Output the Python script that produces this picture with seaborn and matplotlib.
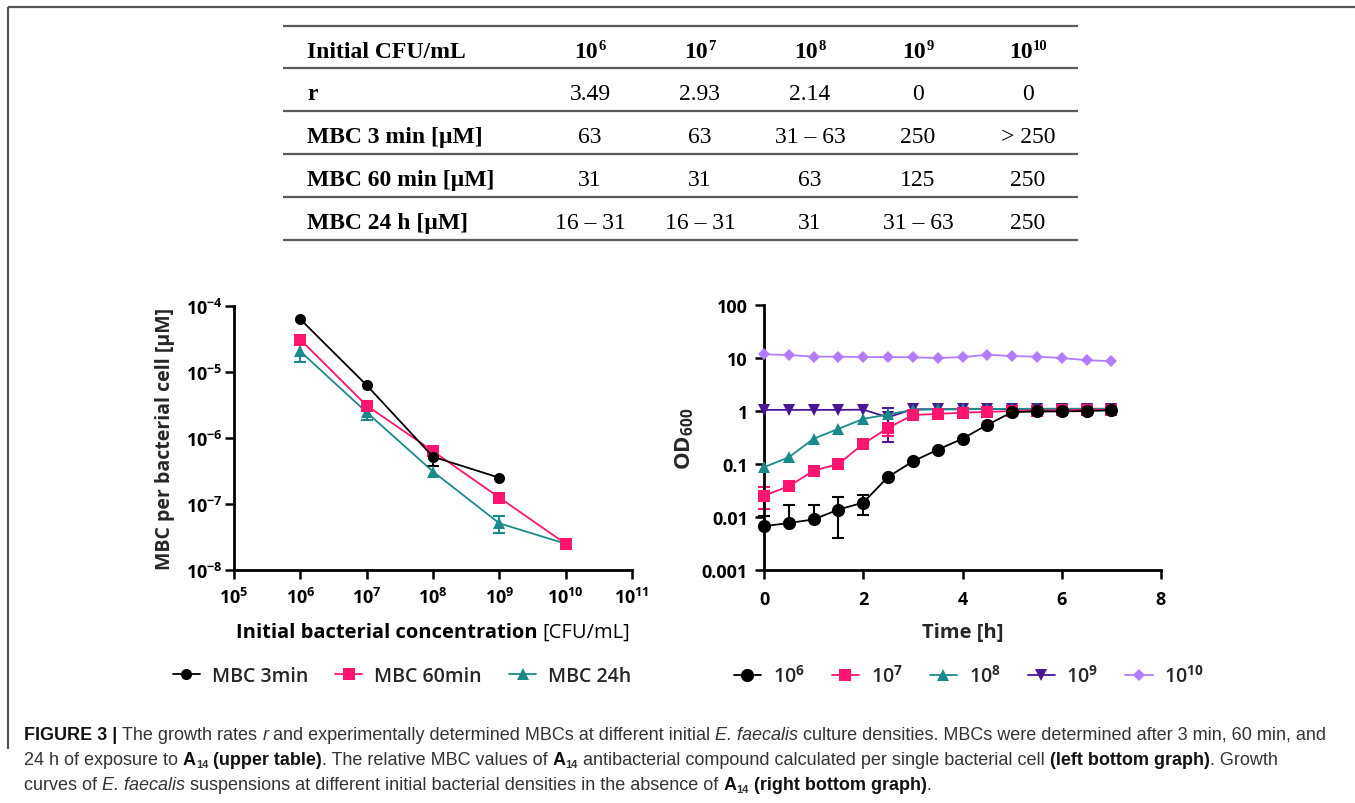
import numpy as np
import matplotlib
matplotlib.use('Agg')
import matplotlib.pyplot as plt
import matplotlib.ticker as mticker
import seaborn as sns

# ---- table values (upper table) ----
table_exponents = ['6', '7', '8', '9', '10']
row_labels = ['r', 'MBC 3 min [\u00b5M]', 'MBC 60 min [\u00b5M]', 'MBC 24 h [\u00b5M]']
r_values = ['3.49', '2.93', '2.14', '0', '0']
mbc3_values = ['63', '63', '31 \u2013 63', '250', '> 250']
mbc60_values = ['31', '31', '63', '125', '250']
mbc24_values = ['16 \u2013 31', '16 \u2013 31', '31', '31 \u2013 63', '250']

# ---- left graph: MBC per bacterial cell ----
cfu = [1e6, 1e7, 1e8, 1e9, 1e10]
mbc3_cell = [6.3e-5, 6.3e-6, 5.2e-7, 2.5e-7]
mbc3_err = [0, 0, 1.5e-7, 0]
mbc60_cell = [3.1e-5, 3.1e-6, 6.3e-7, 1.25e-7, 2.5e-8]
mbc24_cell = [2.05e-5, 2.45e-6, 3.1e-7, 5.1e-8, 2.5e-8]
mbc24_err = [6.5e-6, 5.5e-7, 0, 1.5e-8, 0]

# ---- right graph: growth curves OD600 ----
time_h = [0, 0.5, 1, 1.5, 2, 2.5, 3, 3.5, 4, 4.5, 5, 5.5, 6, 6.5, 7]
od_1e6 = [0.0067, 0.0077, 0.009, 0.0138, 0.0187, 0.057, 0.112, 0.186, 0.30, 0.55, 0.95, 0.98, 0.98, 1.0, 1.03]
od_1e6_lo = [0, 0, 0, 0.0098, 0.0077, 0, 0, 0, 0, 0, 0, 0, 0, 0, 0]
od_1e6_hi = [0.0037, 0.0093, 0.008, 0.0102, 0.0073, 0, 0, 0, 0, 0, 0, 0, 0, 0, 0]
od_1e7 = [0.0253, 0.038, 0.075, 0.10, 0.24, 0.48, 0.84, 0.88, 0.93, 0.96, 1.0, 1.02, 1.03, 1.05, 1.06]
od_1e7_lo = [0.0113, 0, 0, 0, 0, 0.14, 0, 0, 0, 0, 0, 0, 0, 0, 0]
od_1e7_hi = [0.0117, 0, 0, 0, 0, 0, 0, 0, 0, 0, 0, 0, 0, 0, 0]
od_1e8 = [0.087, 0.134, 0.30, 0.46, 0.71, 0.86, 1.05, 1.08, 1.08, 1.09, 1.1, 1.1, 1.1, 1.1, 1.1]
od_1e9 = [1.05, 1.05, 1.05, 1.05, 1.06, 0.76, 1.08, 1.08, 1.08, 1.09, 1.09, 1.1, 1.1, 1.1, 1.1]
od_1e9_lo = [0, 0, 0, 0, 0, 0.5, 0, 0, 0, 0, 0, 0, 0, 0, 0]
od_1e9_hi = [0, 0, 0, 0, 0, 0.39, 0, 0, 0, 0, 0, 0, 0, 0, 0]
od_1e10 = [11.7, 11.4, 10.6, 10.6, 10.4, 10.4, 10.3, 10.0, 10.4, 11.5, 10.9, 10.6, 10.0, 9.1, 8.7]

BLACK = '#000000'
PINK = '#ff1470'
TEAL = '#1a8a88'
INDIGO = '#4a1696'
LAVENDER = '#b37cff'

sns.set_style("ticks")
plt.rcParams['font.family'] = ['Open Sans', 'DejaVu Sans']
plt.rcParams['font.weight'] = 'bold'
plt.rcParams['mathtext.fontset'] = 'custom'
plt.rcParams['mathtext.rm'] = 'Open Sans:bold'
plt.rcParams['mathtext.bf'] = 'Open Sans:bold'
plt.rcParams['mathtext.it'] = 'Open Sans:italic:bold'
plt.rcParams['axes.linewidth'] = 2.0

fig = plt.figure(figsize=(13.55, 8.04), dpi=100)
W, H = 1355, 804


def style_axes(ax):
    sns.despine(ax=ax)
    for s in ['left', 'bottom']:
        ax.spines[s].set_color('black')
        ax.spines[s].set_linewidth(2.0)
    ax.tick_params(which='major', length=6.5, width=1.8, color='black', labelsize=13, labelcolor='black')
    ax.tick_params(which='minor', length=0)
    ax.grid(False)


# ---------------- left graph ----------------
axl = fig.add_axes([234 / W, 1 - 571 / H, 398 / W, 264 / H])
axl.set_xscale('log')
axl.set_yscale('log')
axl.set_xlim(1e5, 1e11)
axl.set_ylim(1e-8, 1e-4)

left_series = [
    ('MBC 24h', cfu, mbc24_cell, mbc24_err, TEAL, '^', 8),
    ('MBC 60min', cfu, mbc60_cell, None, PINK, 's', 8),
    ('MBC 3min', cfu[:4], mbc3_cell, mbc3_err, BLACK, 'o', 8),
]
for name, xs, ys, err, col, mk, ms in left_series:
    if err is not None:
        e = np.array(err)
        m = e > 0
        axl.errorbar(np.array(xs)[m], np.array(ys)[m], yerr=e[m], fmt='none',
                     ecolor=col, elinewidth=1.5, capsize=4.3, capthick=1.5, zorder=2)
    sns.lineplot(x=xs, y=ys, ax=axl, color=col, marker=mk, markersize=ms,
                 markeredgewidth=0, linewidth=1.3, label=name, errorbar=None,
                 clip_on=False, zorder=3)

axl.xaxis.set_major_locator(mticker.LogLocator(base=10, numticks=15))
axl.yaxis.set_major_locator(mticker.LogLocator(base=10, numticks=15))
axl.xaxis.set_minor_locator(mticker.NullLocator())
axl.yaxis.set_minor_locator(mticker.NullLocator())
style_axes(axl)
axl.tick_params(axis='y', pad=1.5)
axl.tick_params(axis='x', pad=6)
axl.set_ylabel('MBC per bacterial cell [\u00b5M]', fontsize=14, fontweight='bold', labelpad=8)
axl.set_xlabel('')

h, l = axl.get_legend_handles_labels()
order = [l.index('MBC 3min'), l.index('MBC 60min'), l.index('MBC 24h')]
axl.legend([h[i] for i in order], [l[i] for i in order], loc='center',
           bbox_to_anchor=(0.422, -0.40), ncol=3, frameon=False,
           handlelength=1.4, handletextpad=0.6, columnspacing=1.4,
           prop={'family': 'Open Sans', 'weight': 'semibold', 'size': 14})

# ---------------- right graph ----------------
axr = fig.add_axes([764 / W, 1 - 571 / H, 397 / W, 265 / H])
axr.set_yscale('log')
axr.set_xlim(0, 8)
axr.set_ylim(0.001, 100)

right_series = [
    ('10$^{10}$', od_1e10, None, None, LAVENDER, 'D', 6.5),
    ('10$^{9}$', od_1e9, od_1e9_lo, od_1e9_hi, INDIGO, 'v', 8),
    ('10$^{8}$', od_1e8, None, None, TEAL, '^', 9),
    ('10$^{7}$', od_1e7, od_1e7_lo, od_1e7_hi, PINK, 's', 9),
    ('10$^{6}$', od_1e6, od_1e6_lo, od_1e6_hi, BLACK, 'o', 9.5),
]
for name, ys, lo, hi, col, mk, ms in right_series:
    if lo is not None:
        lo_a, hi_a = np.array(lo), np.array(hi)
        m = (lo_a > 0) | (hi_a > 0)
        axr.errorbar(np.array(time_h)[m], np.array(ys)[m], yerr=[lo_a[m], hi_a[m]],
                     fmt='none', ecolor=col, elinewidth=1.5, capsize=4.3,
                     capthick=1.5, zorder=2, clip_on=False)
    sns.lineplot(x=time_h, y=ys, ax=axr, color=col, marker=mk, markersize=ms,
                 markeredgewidth=0, linewidth=1.3, label=name, errorbar=None,
                 clip_on=False, zorder=3)

axr.set_xticks([0, 2, 4, 6, 8])
axr.yaxis.set_major_locator(mticker.LogLocator(base=10, numticks=15))
axr.yaxis.set_minor_locator(mticker.NullLocator())
axr.yaxis.set_major_formatter(mticker.FuncFormatter(lambda v, p: '{:g}'.format(v)))
style_axes(axr)
axr.tick_params(axis='y', pad=5)
axr.tick_params(axis='x', pad=8)
axr.set_xlabel('Time [h]', fontsize=14.5, fontweight='bold', labelpad=10)
axr.set_ylabel(r'OD$_{\mathbf{600}}$', fontsize=16, fontweight='bold', labelpad=4)

h, l = axr.get_legend_handles_labels()
h, l = h[::-1], l[::-1]
axr.legend(h, l, loc='center', bbox_to_anchor=(0.516, -0.40), ncol=5, frameon=False,
           handlelength=1.4, handletextpad=0.6, columnspacing=1.4,
           prop={'family': 'Open Sans', 'weight': 'semibold', 'size': 14})

# ---------------- overlay: frame, table, caption ----------------
ov = fig.add_axes([0, 0, 1, 1])
ov.set_xlim(0, W)
ov.set_ylim(H, 0)
ov.axis('off')
ov.patch.set_alpha(0)

renderer = fig.canvas.get_renderer()


def draw_runs(x, y, runs, size, family, color, ha='left'):
    items = []
    pos = 0.0
    for s, st in runs:
        small = st.get('sub') or st.get('sup')
        fs = size * 0.62 if small else size
        kw = dict(fontsize=fs, family=family, fontweight=st.get('weight', 'normal'),
                  fontstyle=st.get('style', 'normal'), color=st.get('color', color),
                  va='baseline', ha='left')
        t = ov.text(0, 0, s, **kw)
        ref = ov.text(0, 0, '|', **kw)
        probe = ov.text(0, 0, s + '|', **kw)
        w = probe.get_window_extent(renderer).width - ref.get_window_extent(renderer).width
        probe.remove()
        ref.remove()
        dy = 0
        if st.get('sup'):
            dy = -0.36 * size * 100 / 72
        if st.get('sub'):
            dy = 0.18 * size * 100 / 72
        items.append((t, pos, dy))
        pos += w
    x0 = x - pos / 2 if ha == 'center' else x
    for t, off, dy in items:
        t.set_position((x0 + off, y + dy))


N = {'weight': 'normal'}
B = {'weight': 'bold'}
It = {'style': 'italic'}
BSUB = {'weight': 'bold', 'sub': True}
BSUP = {'weight': 'bold', 'sup': True}

# frame rules
ov.plot([8, W], [8, 8], color='#555555', lw=1.6, solid_capstyle='butt')
ov.plot([8, 8], [8, 750], color='#555555', lw=1.6, solid_capstyle='butt')

# table
serif = ['Liberation Serif', 'DejaVu Serif']
tfs = 17
line_y = [27, 69, 112, 155, 198, 241]
ov.hlines(line_y, 283, 1078, color='#5a5a5a', lw=1.6)
col_x = [590, 700, 810, 918, 1028]
base_y = [y + 31 for y in line_y[:-1]]
draw_runs(307, base_y[0], [('Initial CFU/mL', B)], tfs, serif, 'black')
for cx, ex in zip(col_x, table_exponents):
    draw_runs(cx, base_y[0], [('10', B), (ex, BSUP)], tfs, serif, 'black', ha='center')
for ri, (lab, vals) in enumerate(zip(row_labels, [r_values, mbc3_values, mbc60_values, mbc24_values])):
    yb = base_y[ri + 1]
    draw_runs(307, yb, [(lab, B)], tfs, serif, 'black')
    for cx, v in zip(col_x, vals):
        draw_runs(cx, yb, [(v, N)], tfs, serif, 'black', ha='center')

# left x label (bold + regular part)
draw_runs(433, 638, [('Initial bacterial concentration ', B), ('[CFU/mL]', N)],
          14.5, ['Open Sans', 'DejaVu Sans'], 'black', ha='center')

# caption
cap = ['Liberation Sans', 'DejaVu Sans']
cfs = 13
CB = {'weight': 'bold', 'color': '#111111'}
draw_runs(24, 740, [('FIGURE 3 | ', CB), ('The growth rates ', N), ('r', It),
                    (' and experimentally determined MBCs at different initial ', N),
                    ('E. faecalis', It),
                    (' culture densities. MBCs were determined after 3 min, 60 min, and', N)],
          cfs, cap, '#333333')
draw_runs(24, 765, [('24 h of exposure to ', N), ('A', CB), ('14', BSUB), (' (upper table)', CB),
                    ('. The relative MBC values of ', N), ('A', CB), ('14', BSUB),
                    (' antibacterial compound calculated per single bacterial cell ', N),
                    ('(left bottom graph)', CB), ('. Growth', N)],
          cfs, cap, '#333333')
draw_runs(24, 790, [('curves of ', N), ('E. faecalis', It),
                    (' suspensions at different initial bacterial densities in the absence of ', N),
                    ('A', CB), ('14', BSUB), (' (right bottom graph)', CB), ('.', N)],
          cfs, cap, '#333333')

fig.savefig('out.png', dpi=100)
